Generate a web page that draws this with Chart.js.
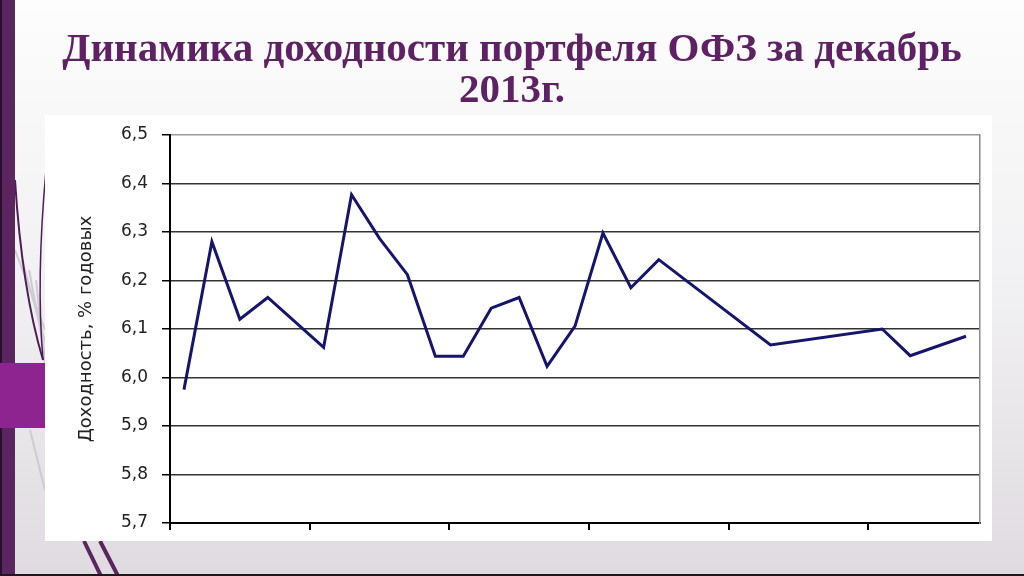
<!DOCTYPE html>
<html>
<head>
<meta charset="utf-8">
<script src="https://cdn.jsdelivr.net/npm/chart.js@4"></script>
<style>
  body { margin: 0; background: #f5f4f6; }
  #wrap { position: relative; width: 1024px; height: 576px; overflow: hidden; }
  #title {
    position: absolute; left: 0; top: 27px; width: 1024px;
    text-align: center; font-family: "Liberation Serif", serif; font-weight: bold;
    font-size: 41px; line-height: 41px; color: #5e2163;
  }
</style>
</head>
<body>
<div id="wrap">
  <canvas id="myChart" width="1024" height="576"></canvas>
  <div id="title">Динамика доходности портфеля ОФЗ за декабрь<br>2013г.</div>
</div>
<script>
const days = ["02.12","03.12","04.12","05.12","06.12","07.12","08.12","09.12","10.12","11.12",
              "12.12","13.12","14.12","15.12","16.12","17.12","18.12","19.12","20.12","21.12",
              "22.12","23.12","24.12","25.12","26.12","27.12","28.12","29.12","30.12"];
// доходность, % годовых (null - нет данных, линия соединяет соседние точки)
const yields = [5.975, 6.28, 6.12, 6.165, null, 6.062, 6.377, 6.287, 6.212, 6.044,
                6.044, 6.143, 6.165, 6.023, 6.106, 6.298, 6.185, 6.243, null, null,
                null, 6.067, null, null, null, 6.10, 6.045, null, 6.085];
const yMin = 5.7;
const yMax = 6.5;
const yStep = 0.1;

// фон слайда
const slideBg = {
    id: "slideBg",
    beforeDraw(chart) {
        const c = chart.ctx;
        c.save();
        const g = c.createLinearGradient(0, 0, 0, 576);
        g.addColorStop(0, "#fdfdfd");
        g.addColorStop(0.5, "#f1f0f2");
        g.addColorStop(1, "#dfdbe0");
        c.fillStyle = g;
        c.fillRect(0, 0, 1024, 576);

        // светлые диагонали
        c.strokeStyle = "#cfcbd2";
        c.lineWidth = 2;
        for (let k = 0; k < 4; k++) {
            c.beginPath();
            c.moveTo(15 + k * 7, 250 + k * 10);
            c.lineTo(45, 330 + k * 12);
            c.stroke();
        }
        c.beginPath();
        c.moveTo(30, 430);
        c.lineTo(45, 490);
        c.stroke();

        // тёмные кривые
        c.strokeStyle = "#4f1d55";
        c.lineWidth = 2;
        c.beginPath();
        c.moveTo(15, 180);
        c.quadraticCurveTo(22, 290, 43, 360);
        c.stroke();
        c.lineWidth = 1.5;
        c.beginPath();
        c.moveTo(46, 170);
        c.quadraticCurveTo(36, 280, 43, 360);
        c.stroke();

        // левая полоса
        c.fillStyle = "#5b2660";
        c.fillRect(0, 0, 15, 576);
        c.fillStyle = "#2b0f30";
        c.fillRect(0, 0, 2, 576);

        // пурпурный блок
        c.fillStyle = "#8e2490";
        c.fillRect(0, 363, 45, 65);

        // нижние диагонали
        c.strokeStyle = "#5b2660";
        c.lineWidth = 4;
        c.beginPath();
        c.moveTo(84, 541); c.lineTo(101, 576);
        c.moveTo(100, 541); c.lineTo(118, 576);
        c.stroke();

        // белая подложка диаграммы
        c.fillStyle = "#ffffff";
        c.fillRect(45, 115, 947, 426);

        c.fillStyle = "#1a1a1a";
        c.fillRect(0, 574, 1024, 2);
        c.restore();
    }
};

const ctx = document.getElementById("myChart");

const data = {
    labels: days,
    datasets: [
        {
            label: "Доходность",
            data: yields,
            borderColor: "#15156e",
            borderWidth: 3,
            pointRadius: 0,
            tension: 0,
            spanGaps: true,
        },
    ],
};

new Chart(ctx, {
    type: "line",
    data: data,
    plugins: [slideBg],
    options: {
        responsive: false,
        animation: false,
        layout: { padding: { left: 60, right: 44, top: 135, bottom: 46 } },
        plugins: {
            legend: { display: false },
            tooltip: { enabled: false },
        },
        scales: {
            x: {
                offset: true,
                afterFit: (s) => { s.height = 7; },
                border: { color: "#000", width: 2 },
                grid: {
                    offset: true,
                    drawOnChartArea: false,
                    tickLength: 7,
                    lineWidth: 2,
                    color: (c) => (c.index !== undefined && c.index % 5 === 0) ? "#000" : "rgba(0,0,0,0)",
                },
                ticks: { display: false, autoSkip: false },
            },
            y: {
                min: yMin,
                max: yMax,
                afterFit: (s) => { s.width = 110; },
                border: { color: "#000", width: 2 },
                grid: {
                    lineWidth: 1.5,
                    tickLength: 8,
                    tickColor: "#000",
                    color: (c) => (c.tick && c.tick.value > 6.45) ? "#9a9a9a" : "#333",
                },
                ticks: {
                    stepSize: yStep,
                    padding: 14,
                    color: "#222",
                    font: { family: "DejaVu Sans", size: 17 },
                    callback: (v) => v.toFixed(1).replace(".", ","),
                },
                title: {
                    display: true,
                    text: "Доходность, % годовых",
                    color: "#222",
                    font: { family: "DejaVu Sans", size: 18 },
                    padding: { top: 16, bottom: 0 },
                },
            },
            y2: {
                position: "right",
                min: yMin,
                max: yMax,
                afterFit: (s) => { s.width = 0; },
                border: { color: "#8a8a8a", width: 1.5 },
                grid: { drawOnChartArea: false, drawTicks: false },
                ticks: { display: false },
            },
        },
    },
});
</script>
</body>
</html>
